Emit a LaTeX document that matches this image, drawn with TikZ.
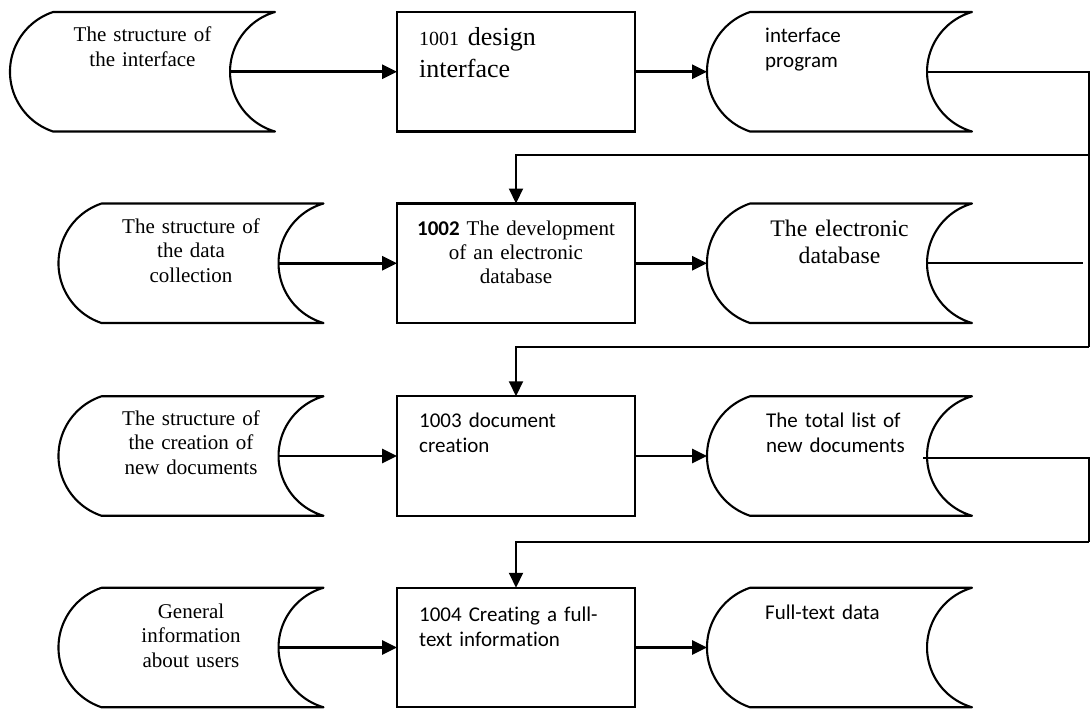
\documentclass[tikz,border=0pt]{standalone}
\usepackage{fontspec}
\setmainfont{Liberation Serif}
\newfontfamily\calib[Ligatures=NoCommon]{Carlito}
\usetikzlibrary{arrows.meta,calc}

\tikzset{
  shapeline/.style={draw, line width=2.1pt, line join=round},
  storebox/.style={minimum width=265pt, minimum height=119.5pt, inner sep=0pt, outer sep=0pt},
  procbox/.style={draw, line width=2.1pt, minimum width=238pt, minimum height=119.5pt, inner sep=0pt, outer sep=0pt},
  flow/.style={line width=2.7pt, -{Triangle[length=15pt,width=14pt]}},
  routeline/.style={line width=1.8pt},
  routearrow/.style={line width=2.1pt, -{Triangle[length=15pt,width=14pt]}},
  lblserif/.style={font=\fontsize{21}{24.5}\selectfont, text width=250pt, inner sep=0pt, anchor=base, align=center},
  lblsans/.style={font=\calib\fontsize{21}{25}\selectfont, text width=250pt, inner sep=0pt, anchor=base west, align=left},
}

% stored-data outline: convex arc on the left, concave arc on the right
\newcommand\storedshape[1]{%
  \draw[shapeline] ($(#1.north west)+(43,0)$) -- (#1.north east)
    arc[start angle=106.1, end angle=253.9, radius=62.2]
    -- ($(#1.south west)+(43,0)$)
    arc[start angle=251.5, end angle=108.5, radius=63] -- cycle;
  \coordinate (#1-in) at ($(#1.east)+(-45,0)$);}

\begin{document}
\begin{tikzpicture}[x=1pt,y=1pt]
\useasboundingbox (0,0) rectangle (1090,-709);

% input stores
\node[storebox] (a1) at (142.5,-71.75) {};
\node[storebox] (a2) at (191,-263.25) {};
\node[storebox] (a3) at (191,-456) {};
\node[storebox] (a4) at (191,-647.5) {};
% processes
\node[procbox] (b1) at (516,-71.75) {};
\node[procbox] (b2) at (516,-263.25) {};
\node[procbox] (b3) at (516,-456) {};
\node[procbox] (b4) at (516,-647.5) {};
% output stores
\node[storebox] (c1) at (839.5,-71.75) {};
\node[storebox] (c2) at (839.5,-263.25) {};
\node[storebox] (c3) at (839.5,-456) {};
\node[storebox] (c4) at (839.5,-647.5) {};

\storedshape{a1}\storedshape{a2}\storedshape{a3}\storedshape{a4}
\storedshape{c1}\storedshape{c2}\storedshape{c3}\storedshape{c4}

% labels
\node[lblserif] (ta1) at (142.5,-42) {The structure of\\the interface};
\node[lblserif] (ta2) at (191,-233) {The structure of\\the data\\collection};
\node[lblserif] (ta3) at (191,-425) {The structure of\\the creation of\\new documents};
\node[lblserif] (ta4) at (191,-618) {General\\information\\about users};

\node[lblserif, anchor=base west, align=left, font=\fontsize{26}{32}\selectfont] (tb1) at (419,-46)
  {{\fontsize{20}{32}\selectfont 1001} design\\interface};
\node[lblserif, font=\fontsize{21}{24}\selectfont] (tb2) at (516,-235)
  {{\calib\bfseries 1002} The development\\of an electronic\\database};
\node[lblsans] (tb3) at (419,-427) {1003 document\\creation};
\node[lblsans] (tb4) at (419,-621) {1004 Creating a full-\\text information};

\node[lblsans] (tc1) at (765,-43) {interface\\program};
\node[lblserif, font=\fontsize{23.7}{27}\selectfont] (tc2) at (839.5,-236) {The electronic\\database};
\node[lblsans] (tc3) at (766,-427) {The total list of\\new documents};
\node[lblsans] (tc4) at (765,-619) {Full-text data};

% row flows
\draw[flow] (a1-in) -- (b1.west);
\draw[flow] (b1.east) -- (c1.west);
\draw[flow] (a2-in) -- (b2.west);
\draw[flow] (b2.east) -- (c2.west);
\draw[flow] (a3-in) -- (b3.west);
\draw[flow] (b3.east) -- (c3.west);
\draw[flow] (a4-in) -- (b4.west);
\draw[flow] (b4.east) -- (c4.west);

% feedback routing along the right edge
\coordinate (k1) at (1089,-155);
\coordinate (k2) at (1089,-347);
\coordinate (k3) at (1089,-542);
\coordinate (e2) at (1083,-263.25);
\draw[routeline] (c1-in) -| (k2);
\draw[routearrow] (k1) -| (b2.north);
\draw[routearrow] (k2) -| (b3.north);
\draw[routeline] (c2-in) -- (e2);
\draw[routeline] ($(c3-in)+(-4,-2)$) -| (k3);
\draw[routearrow] (k3) -| (b4.north);
\end{tikzpicture}
\end{document}
